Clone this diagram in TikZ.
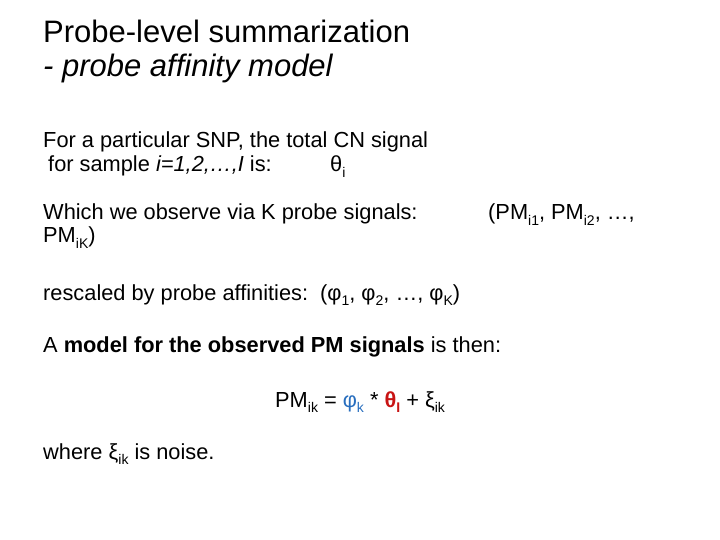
\documentclass[tikz,border=0pt]{standalone}
\usepackage{fontspec}
\setmainfont{Liberation Sans}
\newcommand{\lo}[1]{\raisebox{-0.45ex}{\fontsize{14}{14}\selectfont #1}}
\definecolor{phiblue}{RGB}{40,110,190}
\definecolor{thred}{RGB}{200,20,20}
\begin{document}
\begin{tikzpicture}[x=1pt,y=-1pt,
  txt/.style={anchor=base west,inner sep=0pt,font=\fontsize{21.8}{26}\selectfont},
  ttl/.style={anchor=base west,inner sep=0pt,font=\fontsize{31}{36}\selectfont}]
\useasboundingbox (0,0) rectangle (720,540);
\node[ttl] (t1) at (43,43) {Probe-level summarization};
\node[ttl] (t2) at (43,77) {\itshape - probe affinity model};
\node[txt] (l1) at (43,148) {For a particular SNP, the total CN signal};
\node[txt] (l2) at (48,172) {for sample \textit{i=1,2,…,I} is:};
\node[txt] (th) at (330,172) {θ\lo{i}};
\node[txt] (l3) at (43,220) {Which we observe via K probe signals:};
\node[txt] (pm) at (488,220) {(PM\lo{i1}, PM\lo{i2}, …,};
\node[txt] (l4) at (43,243) {PM\lo{iK})};
\node[txt] (l5) at (43,300) {rescaled by probe affinities:};
\node[txt] (l5b) at (320,300) {(φ\lo{1}, φ\lo{2}, …, φ\lo{K})};
\node[txt] (l6) at (43,352) {A \textbf{model for the observed PM signals} is then:};
\node[txt] (f) at (275,407) {PM\lo{ik} = \textcolor{phiblue}{φ\lo{k}} * \textcolor{thred}{\textbf{θ\lo{I}}} + ξ\lo{ik}};
\node[txt] (l7) at (43,459) {where ξ\lo{ik} is noise.};
\end{tikzpicture}
\end{document}
